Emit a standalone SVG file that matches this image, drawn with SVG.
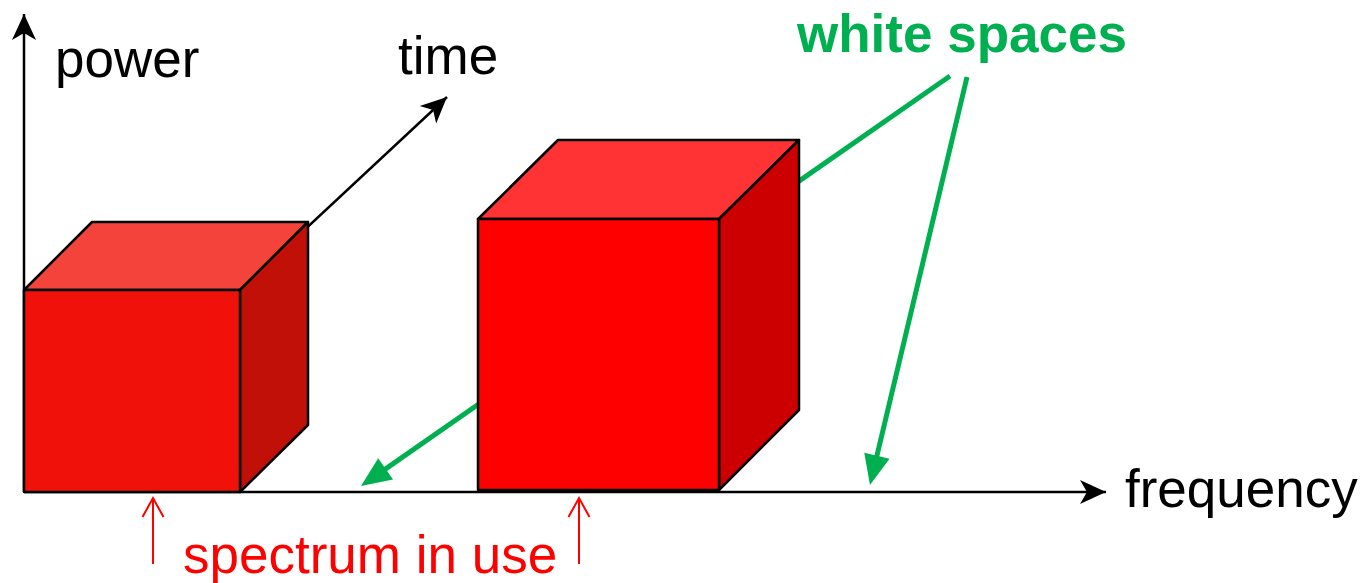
<svg xmlns="http://www.w3.org/2000/svg" width="1363" height="583" viewBox="0 0 1363 583">
<style>
.axis{stroke:#000;stroke-width:2.5;fill:none}
.green{stroke:#00B050;stroke-width:5;fill:none}
.redarr{stroke:#FF0000;stroke-width:2;fill:none}
.edge{stroke:#000;stroke-width:2.5;stroke-linejoin:round}
.lbl{font-family:"Liberation Sans",Arial,sans-serif;font-size:53px;fill:#000}
.ws{font-family:"Liberation Sans",Arial,sans-serif;font-size:53px;font-weight:bold;fill:#00B050}
.sp{font-family:"Liberation Sans",Arial,sans-serif;font-size:53px;fill:#FF0000}
</style>
<defs>
<marker id="blk" markerUnits="userSpaceOnUse" viewBox="-30 -15 30 30" refX="0" refY="0" markerWidth="30" markerHeight="30" orient="auto">
<path d="M0,0 L-26,-12 L-19,0 L-26,12 Z" fill="#000"/>
</marker>
<marker id="grn" markerUnits="userSpaceOnUse" viewBox="-40 -20 40 40" refX="-20" refY="0" markerWidth="40" markerHeight="40" orient="auto">
<path d="M0,0 L-30,-13 L-30,13 Z" fill="#00B050"/>
</marker>
<marker id="red" markerUnits="userSpaceOnUse" viewBox="-25 -15 30 30" refX="0" refY="0" markerWidth="30" markerHeight="30" orient="auto">
<path d="M-19,-10.5 L0,0 L-19,10.5" fill="none" stroke="#FF0000" stroke-width="2"/>
</marker>
</defs>
<g id="connectors">
<line class="axis" x1="24" y1="492" x2="24" y2="14" marker-end="url(#blk)"/>
<line class="axis" x1="24" y1="492" x2="1106" y2="492" marker-end="url(#blk)"/>
<line class="axis" x1="240" y1="290" x2="447" y2="97" marker-end="url(#blk)"/>
<line class="green" x1="950" y1="76" x2="377.4" y2="474.6" marker-end="url(#grn)"/>
</g>
<g id="cube-small">
<polygon class="edge" points="24,290 92,222 308,222 240,290" fill="#F4433A"/>
<polygon class="edge" points="240,290 308,222 308,425 240,492" fill="#C11008"/>
<rect class="edge" x="24" y="290" width="216" height="202" fill="#F0120A"/>
</g>
<g id="cube-big">
<polygon class="edge" points="478,219 558,140 799,140 719,219" fill="#FF3333"/>
<polygon class="edge" points="719,219 799,140 799,410 719,490" fill="#CC0000"/>
<rect class="edge" x="478" y="219" width="241" height="271" fill="#FF0000"/>
</g>
<g id="connectors-front">
<line class="green" x1="967" y1="77" x2="874.6" y2="465.5" marker-end="url(#grn)"/>
<line class="redarr" x1="153" y1="564" x2="153" y2="498" marker-end="url(#red)"/>
<line class="redarr" x1="579" y1="564" x2="579" y2="498" marker-end="url(#red)"/>
</g>
<g id="labels">
<text class="lbl" x="55" y="77">power</text>
<text class="lbl" x="398" y="74">time</text>
<text class="lbl" x="1125" y="507">frequency</text>
<text class="ws" x="797" y="52">white spaces</text>
<text class="sp" x="183" y="573">spectrum in use</text>
</g>
</svg>
